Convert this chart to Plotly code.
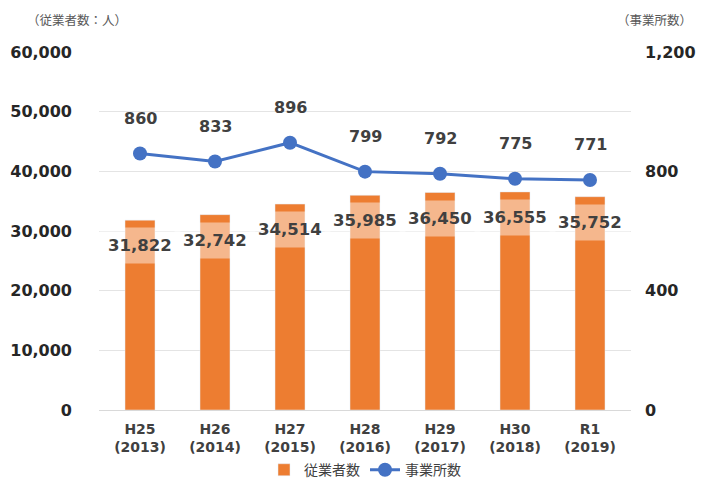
import plotly.graph_objects as go

categories = ["H25<br>(2013)", "H26<br>(2014)", "H27<br>(2015)", "H28<br>(2016)",
              "H29<br>(2017)", "H30<br>(2018)", "R1<br>(2019)"]
employees = [31822, 32742, 34514, 35985, 36450, 36555, 35752]
establishments = [860, 833, 896, 799, 792, 775, 771]

FONT = "DejaVu Sans, Noto Sans CJK JP"
TXT = "#404040"

fig = go.Figure()
fig.add_trace(go.Bar(x=categories, y=employees, name="従業者数",
                     marker_color="#ED7D31", width=0.4, yaxis="y"))
fig.add_trace(go.Scatter(x=categories, y=establishments, name="事業所数",
                         mode="lines+markers", yaxis="y2",
                         line=dict(color="#4472C4", width=3),
                         marker=dict(size=14, color="#4472C4")))

ann = []
for c, v in zip(categories, employees):
    ann.append(dict(x=c, y=v, xref="x", yref="y", text=f"<b>{v:,}</b>",
                    showarrow=False, yanchor="top", yshift=-7,
                    bgcolor="rgba(255,255,255,0.45)", borderpad=8,
                    font=dict(size=16.5, color=TXT, family=FONT)))
for c, v in zip(categories, establishments):
    ann.append(dict(x=c, y=v, xref="x", yref="y2", text=f"<b>{v}</b>",
                    showarrow=False, yanchor="middle", yshift=35,
                    font=dict(size=16, color=TXT, family=FONT)))
ann.append(dict(x=-0.14, y=1.092, xref="paper", yref="paper", text="（従業者数：人）",
                showarrow=False, xanchor="left", yanchor="middle",
                font=dict(size=12.5, color="#595959", family="Noto Sans CJK JP")))
ann.append(dict(x=1.045, y=1.092, xref="paper", yref="paper", text="（事業所数）",
                showarrow=False, xanchor="center", yanchor="middle",
                font=dict(size=12.5, color="#595959", family="Noto Sans CJK JP")))

fig.update_layout(
    width=707, height=474,
    margin=dict(l=91, r=84, t=44, b=72, autoexpand=False),
    paper_bgcolor="white", plot_bgcolor="white",
    font=dict(family=FONT, color=TXT),
    bargap=0.6,
    xaxis=dict(showgrid=False, showline=True, linecolor="#D9D9D9", linewidth=1,
               tickfont=dict(size=14, color=TXT, family=FONT), ticks="",
               ticklabelstandoff=6),
    yaxis=dict(range=[0, 60000], dtick=10000, tickformat=",", showgrid=True,
               gridcolor="#E4E4E4", zeroline=False, ticks="", ticklen=0,
               tickfont=dict(size=16, color="#262626", family=FONT),
               ticklabelstandoff=26),
    yaxis2=dict(range=[0, 1200], dtick=400, tickformat=",", overlaying="y",
                side="right", showgrid=False, zeroline=False,
                tickfont=dict(size=16, color="#262626", family=FONT),
                ticklabelstandoff=13),
    legend=dict(orientation="h", x=0.5, xanchor="center", y=-0.168, yanchor="middle",
                font=dict(size=14, color=TXT, family="Noto Sans CJK JP"),
                traceorder="normal"),
    annotations=ann,
)
fig.update_xaxes(tickprefix="<b>", ticksuffix="</b>")
fig.update_yaxes(tickprefix="<b>", ticksuffix="</b>")

fig.write_html("out.html")
